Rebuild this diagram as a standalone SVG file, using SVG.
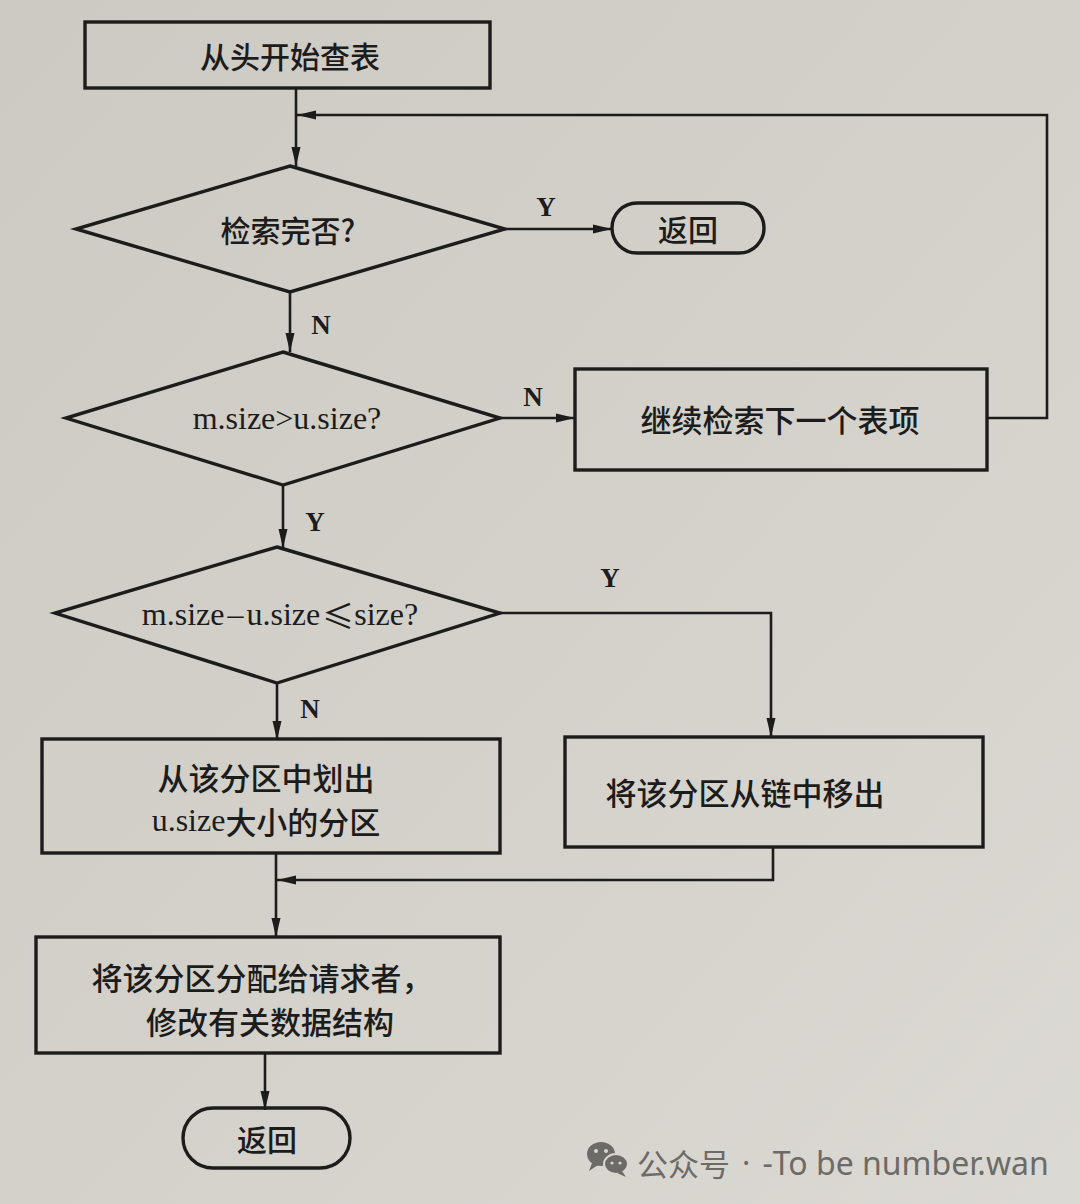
<svg xmlns="http://www.w3.org/2000/svg" width="1080" height="1204" viewBox="0 0 1080 1204">
<defs>
<linearGradient id="bg" x1="0" y1="0" x2="1" y2="1">
<stop offset="0" stop-color="#cdcac3"/>
<stop offset="0.5" stop-color="#d4d1cb"/>
<stop offset="1" stop-color="#dbd9d3"/>
</linearGradient>
<marker id="ah" markerUnits="userSpaceOnUse" markerWidth="20" markerHeight="10" refX="19" refY="5" orient="auto">
<path d="M0,0.5 L19,5 L0,9.5 z" fill="#1c1c1c"/>
</marker>
<style>
.n{fill:none;stroke:#1c1c1c;stroke-width:3.4}
.c{fill:none;stroke:#1c1c1c;stroke-width:2.6}
.a{marker-end:url(#ah)}
.t{font-family:"Noto Sans CJK SC","Noto Sans",sans-serif;font-size:31px;font-weight:500;fill:#1c1c1c;text-anchor:middle;dominant-baseline:central}
.s{font-size:30px}
.m{font-family:"Liberation Serif","Noto Sans CJK SC",serif;font-size:32px;fill:#1c1c1c;text-anchor:middle;dominant-baseline:central}
.cj{font-family:"Noto Sans CJK SC",sans-serif}
.l{font-family:"Liberation Serif",serif;font-size:27px;font-weight:bold;fill:#1c1c1c;text-anchor:middle;dominant-baseline:central}
.w{font-family:"Noto Sans CJK SC","Noto Sans",sans-serif;font-size:31px;fill:#6c6b67;dominant-baseline:central}
</style>
</defs>
<rect width="1080" height="1204" fill="url(#bg)"/>

<g id="connectors">
<path class="c a" d="M296,88 V166"/>
<path class="c a" d="M987,418 H1047 V115 H297"/>
<path class="c a" d="M505,229 H612"/>
<text class="l" x="546" y="207">Y</text>
<path class="c a" d="M290,292 V352"/>
<text class="l" x="321" y="325">N</text>
<path class="c a" d="M500,418 H575"/>
<text class="l" x="533" y="397">N</text>
<path class="c a" d="M283,485 V548"/>
<text class="l" x="315" y="522">Y</text>
<path class="c a" d="M500,613 H771 V737"/>
<text class="l" x="610" y="578">Y</text>
<path class="c a" d="M277,683 V740"/>
<text class="l" x="310" y="709">N</text>
<path class="c a" d="M773,847 V880 H277"/>
<path class="c a" d="M276,853 V937"/>
<path class="c a" d="M265,1053 V1110"/>
</g>

<g id="start">
<rect class="n" x="85" y="22" width="405" height="66"/>
<text class="t s" x="290" y="55">从头开始查表</text>
</g>

<g id="check-done">
<polygon class="n" points="290,166 505,229 290,292 76,229"/>
<text class="t s" x="288" y="229">检索完否?</text>
</g>

<g id="return1">
<rect class="n" x="612" y="203" width="152" height="50" rx="25" ry="25"/>
<text class="t s" x="688" y="228">返回</text>
</g>

<g id="size-compare">
<polygon class="n" points="283,352 500,418 283,485 66,418"/>
<text class="m" x="287" y="418">m.size&gt;u.size?</text>
</g>

<g id="next-item">
<rect class="n" x="575" y="369" width="412" height="101"/>
<text class="t" x="780" y="418">继续检索下一个表项</text>
</g>

<g id="remainder-check">
<polygon class="n" points="277,547 500,613 277,683 55,613"/>
<text class="m" x="280" y="614">m.size<tspan dx="3">–</tspan><tspan dx="3">u.size</tspan><tspan class="cj" dx="2">≤</tspan>size?</text>
</g>

<g id="split">
<rect class="n" x="42" y="739" width="458" height="114"/>
<text class="t" x="266" y="776">从该分区中划出</text>
<text class="t" x="266" y="820"><tspan font-family="Liberation Serif,serif" font-size="32" font-weight="normal">u.size</tspan>大小的分区</text>
</g>

<g id="unlink">
<rect class="n" x="565" y="737" width="418" height="110"/>
<text class="t" x="745" y="791">将该分区从链中移出</text>
</g>

<g id="allocate">
<rect class="n" x="36" y="937" width="464" height="116"/>
<text class="t" x="262" y="976">将该分区分配给请求者，</text>
<text class="t" x="270" y="1020">修改有关数据结构</text>
</g>

<g id="return2">
<rect class="n" x="183" y="1108" width="167" height="60" rx="30" ry="30"/>
<text class="t s" x="267" y="1138">返回</text>
</g>

<g id="watermark">
<ellipse cx="601" cy="1154" rx="14" ry="12" fill="#6c6b67"/>
<path d="M592,1163 L589,1171 L598,1165 z" fill="#6c6b67"/>
<ellipse cx="616" cy="1164" rx="12" ry="10" fill="#6c6b67" stroke="#d8d6d0" stroke-width="2"/>
<path d="M622,1171 L626,1177 L617,1173 z" fill="#6c6b67"/>
<circle cx="596" cy="1151" r="2" fill="#d8d6d0"/>
<circle cx="606" cy="1151" r="2" fill="#d8d6d0"/>
<circle cx="612" cy="1163" r="1.6" fill="#d8d6d0"/>
<circle cx="620" cy="1163" r="1.6" fill="#d8d6d0"/>
<text class="w" x="637" y="1162">公众号<tspan font-family="Noto Sans,sans-serif" dx="4"> · </tspan><tspan font-family="Noto Sans,sans-serif" font-size="32" dx="4">-To be number.wan</tspan></text>
</g>
</svg>
